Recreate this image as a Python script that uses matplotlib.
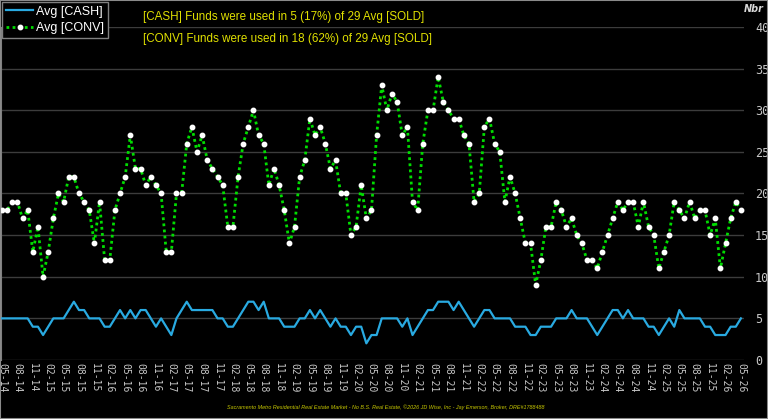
import pandas as pd
import numpy as np
import matplotlib
matplotlib.use("Agg")
import matplotlib.pyplot as plt
from matplotlib.patches import Rectangle

# monthly averages, 05-2014 .. 05-2026
months = pd.date_range("2014-05-01", "2026-05-01", freq="MS").strftime("%m-%y").tolist()

cash = [5, 5, 5, 5, 5, 5, 4, 4, 3, 4, 5, 5, 5, 6, 7, 6, 6, 5, 5, 5,
        4, 4, 5, 6, 5, 6, 5, 6, 6, 5, 4, 5, 4, 3, 5, 6, 7, 6, 6, 6,
        6, 6, 5, 5, 4, 4, 5, 6, 7, 7, 6, 7, 5, 5, 5, 4, 4, 4, 5, 5,
        6, 5, 6, 5, 4, 5, 4, 4, 3, 4, 4, 2, 3, 3, 5, 5, 5, 5, 4, 5,
        3, 4, 5, 6, 6, 7, 7, 7, 6, 7, 6, 5, 4, 5, 6, 6, 5, 5, 5, 5,
        4, 4, 4, 3, 3, 4, 4, 4, 5, 5, 5, 6, 5, 5, 5, 4, 3, 4, 5, 6,
        6, 5, 6, 5, 5, 5, 4, 4, 3, 4, 5, 4, 6, 5, 5, 5, 5, 4, 4, 3,
        3, 3, 4, 4, 5]

conv = [18, 18, 19, 19, 17, 18, 13, 16, 10, 13, 17, 20, 19, 22, 22, 20, 19, 18, 14, 19,
        12, 12, 18, 20, 22, 27, 23, 23, 21, 22, 21, 20, 13, 13, 20, 20, 26, 28, 25, 27,
        24, 23, 22, 21, 16, 16, 22, 26, 28, 30, 27, 26, 21, 23, 21, 18, 14, 16, 22, 24,
        29, 27, 28, 26, 23, 24, 20, 20, 15, 16, 21, 17, 18, 27, 33, 30, 32, 31, 27, 28,
        19, 18, 26, 30, 30, 34, 31, 30, 29, 29, 27, 26, 19, 20, 28, 29, 26, 25, 19, 22,
        20, 17, 14, 14, 9, 12, 16, 16, 19, 18, 16, 17, 15, 14, 12, 12, 11, 13, 15, 17,
        19, 18, 19, 19, 16, 19, 16, 15, 11, 13, 15, 19, 18, 17, 19, 17, 18, 18, 15, 17,
        11, 14, 17, 19, 18]

notes = ["[CASH] Funds were used in 5 (17%) of 29 Avg [SOLD]",
         "[CONV] Funds were used in 18 (62%) of 29 Avg [SOLD]"]
footer = ("Sacramento Metro Residential Real Estate Market - No B.S. Real Estate, "
          "\u00a92026 JD Wise, Inc - Jay Emerson, Broker, DRE#1788488")

W, H = 768, 419
fig = plt.figure(figsize=(W / 100, H / 100), dpi=100, facecolor="black")
ax = fig.add_axes([1 / W, 1 - 360 / H, 743 / W, 333 / H], facecolor="black")

x = np.arange(len(months))
ax.plot(x, conv, color="#00dd00", lw=2.0, ls=(0, (1, 1.2)),
        marker="o", ms=3.2, mfc="white", mec="white", zorder=3, label="Avg [CONV]")
ax.plot(x, cash, color="#29aae1", lw=1.6, zorder=4, label="Avg [CASH]")

ax.set_xlim(-0.2, 144.6)
ax.set_ylim(0, 40)
ax.set_yticks(range(0, 41, 5))
ax.yaxis.tick_right()
ax.grid(axis="y", color="#3c3c3c", lw=1)
ax.set_axisbelow(True)
ax.tick_params(axis="y", length=0, pad=8, labelsize=8.5, labelcolor="#c8c8c8")
for t in ax.get_yticklabels():
    t.set_family("DejaVu Sans Mono")

ax.set_xticks(x[::3])
ax.set_xticklabels(months[::3], rotation=270, family="DejaVu Sans Mono",
                   fontsize=7, color="#c8c8c8", va="top", ha="center")
ax.tick_params(axis="x", length=0, pad=2)

for s in ["top", "right", "bottom"]:
    ax.spines[s].set_visible(False)
ax.spines["left"].set_color("#808080")

# legend top-left
handles, labels = ax.get_legend_handles_labels()
leg = fig.legend(handles[::-1], labels[::-1], loc="upper left",
                 bbox_to_anchor=(2 / W, 1 - 2 / H), frameon=True, fancybox=False,
                 facecolor="black", edgecolor="#808080", framealpha=1,
                 prop={"family": "Liberation Sans", "size": 9},
                 handlelength=2.2, handletextpad=0.2, borderpad=0.3,
                 labelspacing=0.35, borderaxespad=0)
for t in leg.get_texts():
    t.set_color("white")

fig.text(143 / W, 1 - 17 / H, notes[0], color="#e0e000", fontsize=8.4,
         family="Liberation Sans", va="center", ha="left")
fig.text(143 / W, 1 - 39 / H, notes[1], color="#e0e000", fontsize=8.4,
         family="Liberation Sans", va="center", ha="left")
fig.text(744 / W, 1 - 9 / H, "Nbr", color="#d8d8d8", fontsize=7,
         style="italic", weight="bold", ha="left", va="center")
fig.text(386 / W, 1 - 407 / H, footer, color="#c8c800", fontsize=3.9,
         style="italic", family="Liberation Sans", ha="center", va="center")

fig.patches.append(Rectangle((0, 0), 1, 1, transform=fig.transFigure, fill=False,
                             edgecolor="#8a8a8a", lw=1.5))

fig.savefig("out.png", dpi=100, facecolor="black")
